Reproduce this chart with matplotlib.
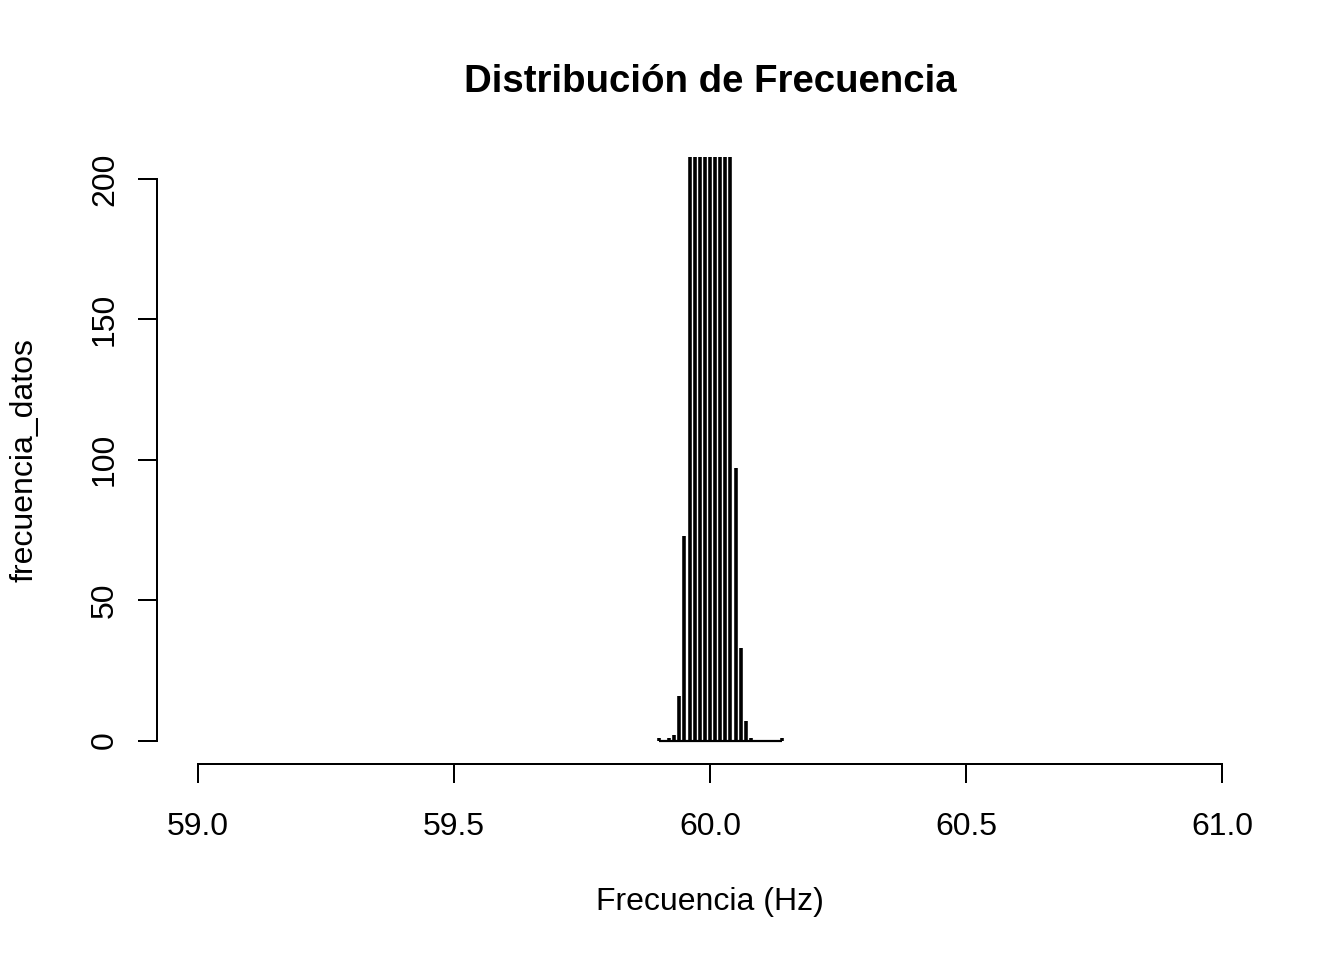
import matplotlib
matplotlib.use("Agg")
import matplotlib.pyplot as plt
import numpy as np

# frequency readings (Hz) and how many times each was seen
frecuencia = np.array([59.90, 59.92, 59.93, 59.94, 59.95, 59.96, 59.97, 59.98, 59.99,
                       60.00, 60.01, 60.02, 60.03, 60.04, 60.05, 60.06, 60.07, 60.08, 60.14])
frecuencia_datos = np.array([1, 1, 2, 16, 73, 310, 520, 690, 810, 850, 780, 620, 430, 240,
                             97, 33, 7, 1, 1])
x_ticks = [59.0, 59.5, 60.0, 60.5, 61.0]
y_ticks = [0, 50, 100, 150, 200]

DPI = 100
px = 72 / DPI  # points per pixel
plt.rcParams["font.family"] = ["Liberation Sans", "DejaVu Sans"]

fig = plt.figure(figsize=(13.44, 9.6), dpi=DPI)
ax = fig.add_axes([157 / 1344, 1 - 763 / 960, (1263 - 157) / 1344, (763 - 156.6) / 960])

ax.vlines(frecuencia, 0, frecuencia_datos, color="black", linewidth=3.6 * px, capstyle="butt")
ax.hlines(0, frecuencia.min(), frecuencia.max(), color="black", linewidth=2.2 * px)

ax.set_xlim(59 - 0.08, 61 + 0.08)
ax.set_ylim(-8, 208)

for side in ("top", "right"):
    ax.spines[side].set_visible(False)
ax.spines["left"].set_bounds(0, 200)
ax.spines["bottom"].set_bounds(59, 61)
ax.spines["left"].set_linewidth(2 * px)
ax.spines["bottom"].set_linewidth(2 * px)
ax.spines["bottom"].set_position(("outward", 1))

ax.set_xticks(x_ticks, [f"{v:.1f}" for v in x_ticks])
ax.set_yticks(y_ticks, [str(v) for v in y_ticks])
ax.tick_params(axis="both", length=19 * px, width=2 * px, labelsize=32 * px)
ax.tick_params(axis="x", pad=29 * px)
ax.tick_params(axis="y", pad=18 * px)
for lab in ax.get_yticklabels():
    lab.set_rotation(90)
    lab.set_va("center")

fig.text(710 / 1344, 1 - 82 / 960, "Distribución de Frecuencia", ha="center", va="center",
         fontsize=38.4 * px, fontweight="bold")
fig.text(710 / 1344, 1 - 902 / 960, "Frecuencia (Hz)", ha="center", va="center",
         fontsize=32 * px)
fig.text(25 / 1344, 1 - 460 / 960, "frecuencia_datos", ha="center", va="center",
         rotation=90, fontsize=32 * px)

fig.savefig("out.png", dpi=DPI)
